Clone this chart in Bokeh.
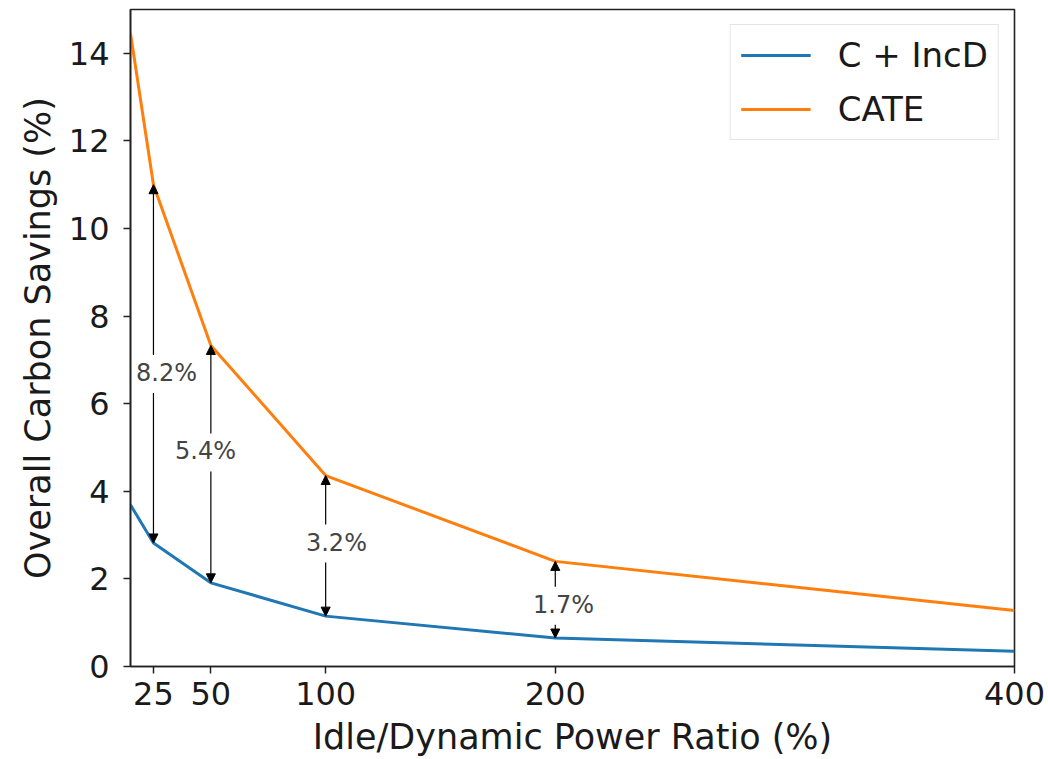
from bokeh.plotting import figure
from bokeh.models import (Range1d, FixedTicker, Legend, LegendItem, ColumnDataSource,
                          LabelSet, Arrow, NormalHead)
from bokeh.core.properties import value
from bokeh.embed import file_html
from bokeh.resources import INLINE

# ---- data ----
ratio = [15, 25, 50, 100, 200, 400]
incd = [3.69, 2.82, 1.91, 1.15, 0.65, 0.35]
cate = [14.45, 11.0, 7.33, 4.36, 2.40, 1.28]

gap_x = [25, 50, 100, 200]
gap_upper = [11.0, 7.33, 4.36, 2.40]
gap_lower = [2.82, 1.91, 1.15, 0.65]
gap_text = ["8.2%", "5.4%", "3.2%", "1.7%"]
gap_label_x = [30.7, 47.7, 104.7, 203.6]
gap_label_y = [6.70, 4.91, 2.83, 1.41]

x_ticks = [25, 50, 100, 200, 400]
y_ticks = [0, 2, 4, 6, 8, 10, 12, 14]

FONT = "DejaVu Sans"
BLUE = "#1f77b4"
ORANGE = "#ff7f0e"

W, H = 1048, 759
B_LEFT, B_TOP, B_RIGHT, B_BOTTOM = 130, 9, 34, 90

p = figure(width=W, height=H, output_backend="svg", toolbar_location=None,
           x_range=Range1d(15, 400), y_range=Range1d(0, 15),
           min_border_left=B_LEFT, min_border_top=B_TOP, min_border_right=B_RIGHT,
           min_border_bottom=B_BOTTOM)

p.grid.visible = False
p.outline_line_color = "#222222"
p.outline_line_width = 1.6
p.background_fill_color = "white"
p.border_fill_color = "white"

for ax in (p.xaxis[0], p.yaxis[0]):
    ax.axis_line_color = "#222222"
    ax.axis_line_width = 1.6
    ax.major_tick_line_color = "#222222"
    ax.major_tick_line_width = 1.5
    ax.major_tick_out = 7
    ax.major_tick_in = 0
    ax.minor_tick_line_color = None
    ax.major_label_text_font = FONT
    ax.major_label_text_font_size = "32px"
    ax.major_label_text_color = "#1a1a1a"
    ax.axis_label_text_font = FONT
    ax.axis_label_text_font_size = "35px"
    ax.axis_label_text_font_style = "normal"
    ax.axis_label_text_color = "#1a1a1a"

p.xaxis.major_label_standoff = 8
p.yaxis.major_label_standoff = 14
p.xaxis.ticker = FixedTicker(ticks=x_ticks)
p.yaxis.ticker = FixedTicker(ticks=y_ticks)
p.xaxis.axis_label = "Idle/Dynamic Power Ratio (%)"
p.yaxis.axis_label = "Overall Carbon Savings (%)"
p.xaxis.axis_label_standoff = 9
p.yaxis.axis_label_standoff = 8

r1 = p.line(ratio, incd, line_color=BLUE, line_width=3)
r2 = p.line(ratio, cate, line_color=ORANGE, line_width=3)

# arrows between the curves, with a gap around the label
frame_h = H - B_TOP - 95
upp = 15.0 / frame_h
up_tail = [y + 18 * upp for y in gap_label_y]
low_tail = [y - 20 * upp for y in gap_label_y]

src_up = ColumnDataSource(dict(x0=gap_x, y0=up_tail, x1=gap_x, y1=gap_upper))
src_low = ColumnDataSource(dict(x0=gap_x, y0=low_tail, x1=gap_x, y1=gap_lower))
for src in (src_up, src_low):
    p.add_layout(Arrow(source=src, x_start="x0", y_start="y0", x_end="x1", y_end="y1",
                       line_color="black", line_width=1.2,
                       end=NormalHead(size=9, fill_color="black", line_color="black",
                                      line_width=1)))

lab_src = ColumnDataSource(dict(x=gap_label_x, y=gap_label_y, t=gap_text))
p.add_layout(LabelSet(source=lab_src, x="x", y="y", text="t",
                      text_align="center", text_baseline="middle",
                      text_font=value(FONT), text_font_size=value("24px"),
                      text_color="#444444"))

legend = Legend(items=[LegendItem(label="C + IncD", renderers=[r1]),
                       LegendItem(label="CATE", renderers=[r2])],
                location="top_right")
legend.label_text_font = FONT
legend.label_text_font_size = "34px"
legend.label_text_color = "#1a1a1a"
legend.glyph_width = 70
legend.glyph_height = 36
legend.label_height = 36
legend.label_standoff = 27
legend.spacing = 14
legend.padding = 10
legend.margin = 15
legend.border_line_color = "#cccccc"
legend.border_line_width = 1.5
legend.background_fill_alpha = 0.8
p.add_layout(legend)

open("out.html", "w").write(file_html(p, INLINE))
